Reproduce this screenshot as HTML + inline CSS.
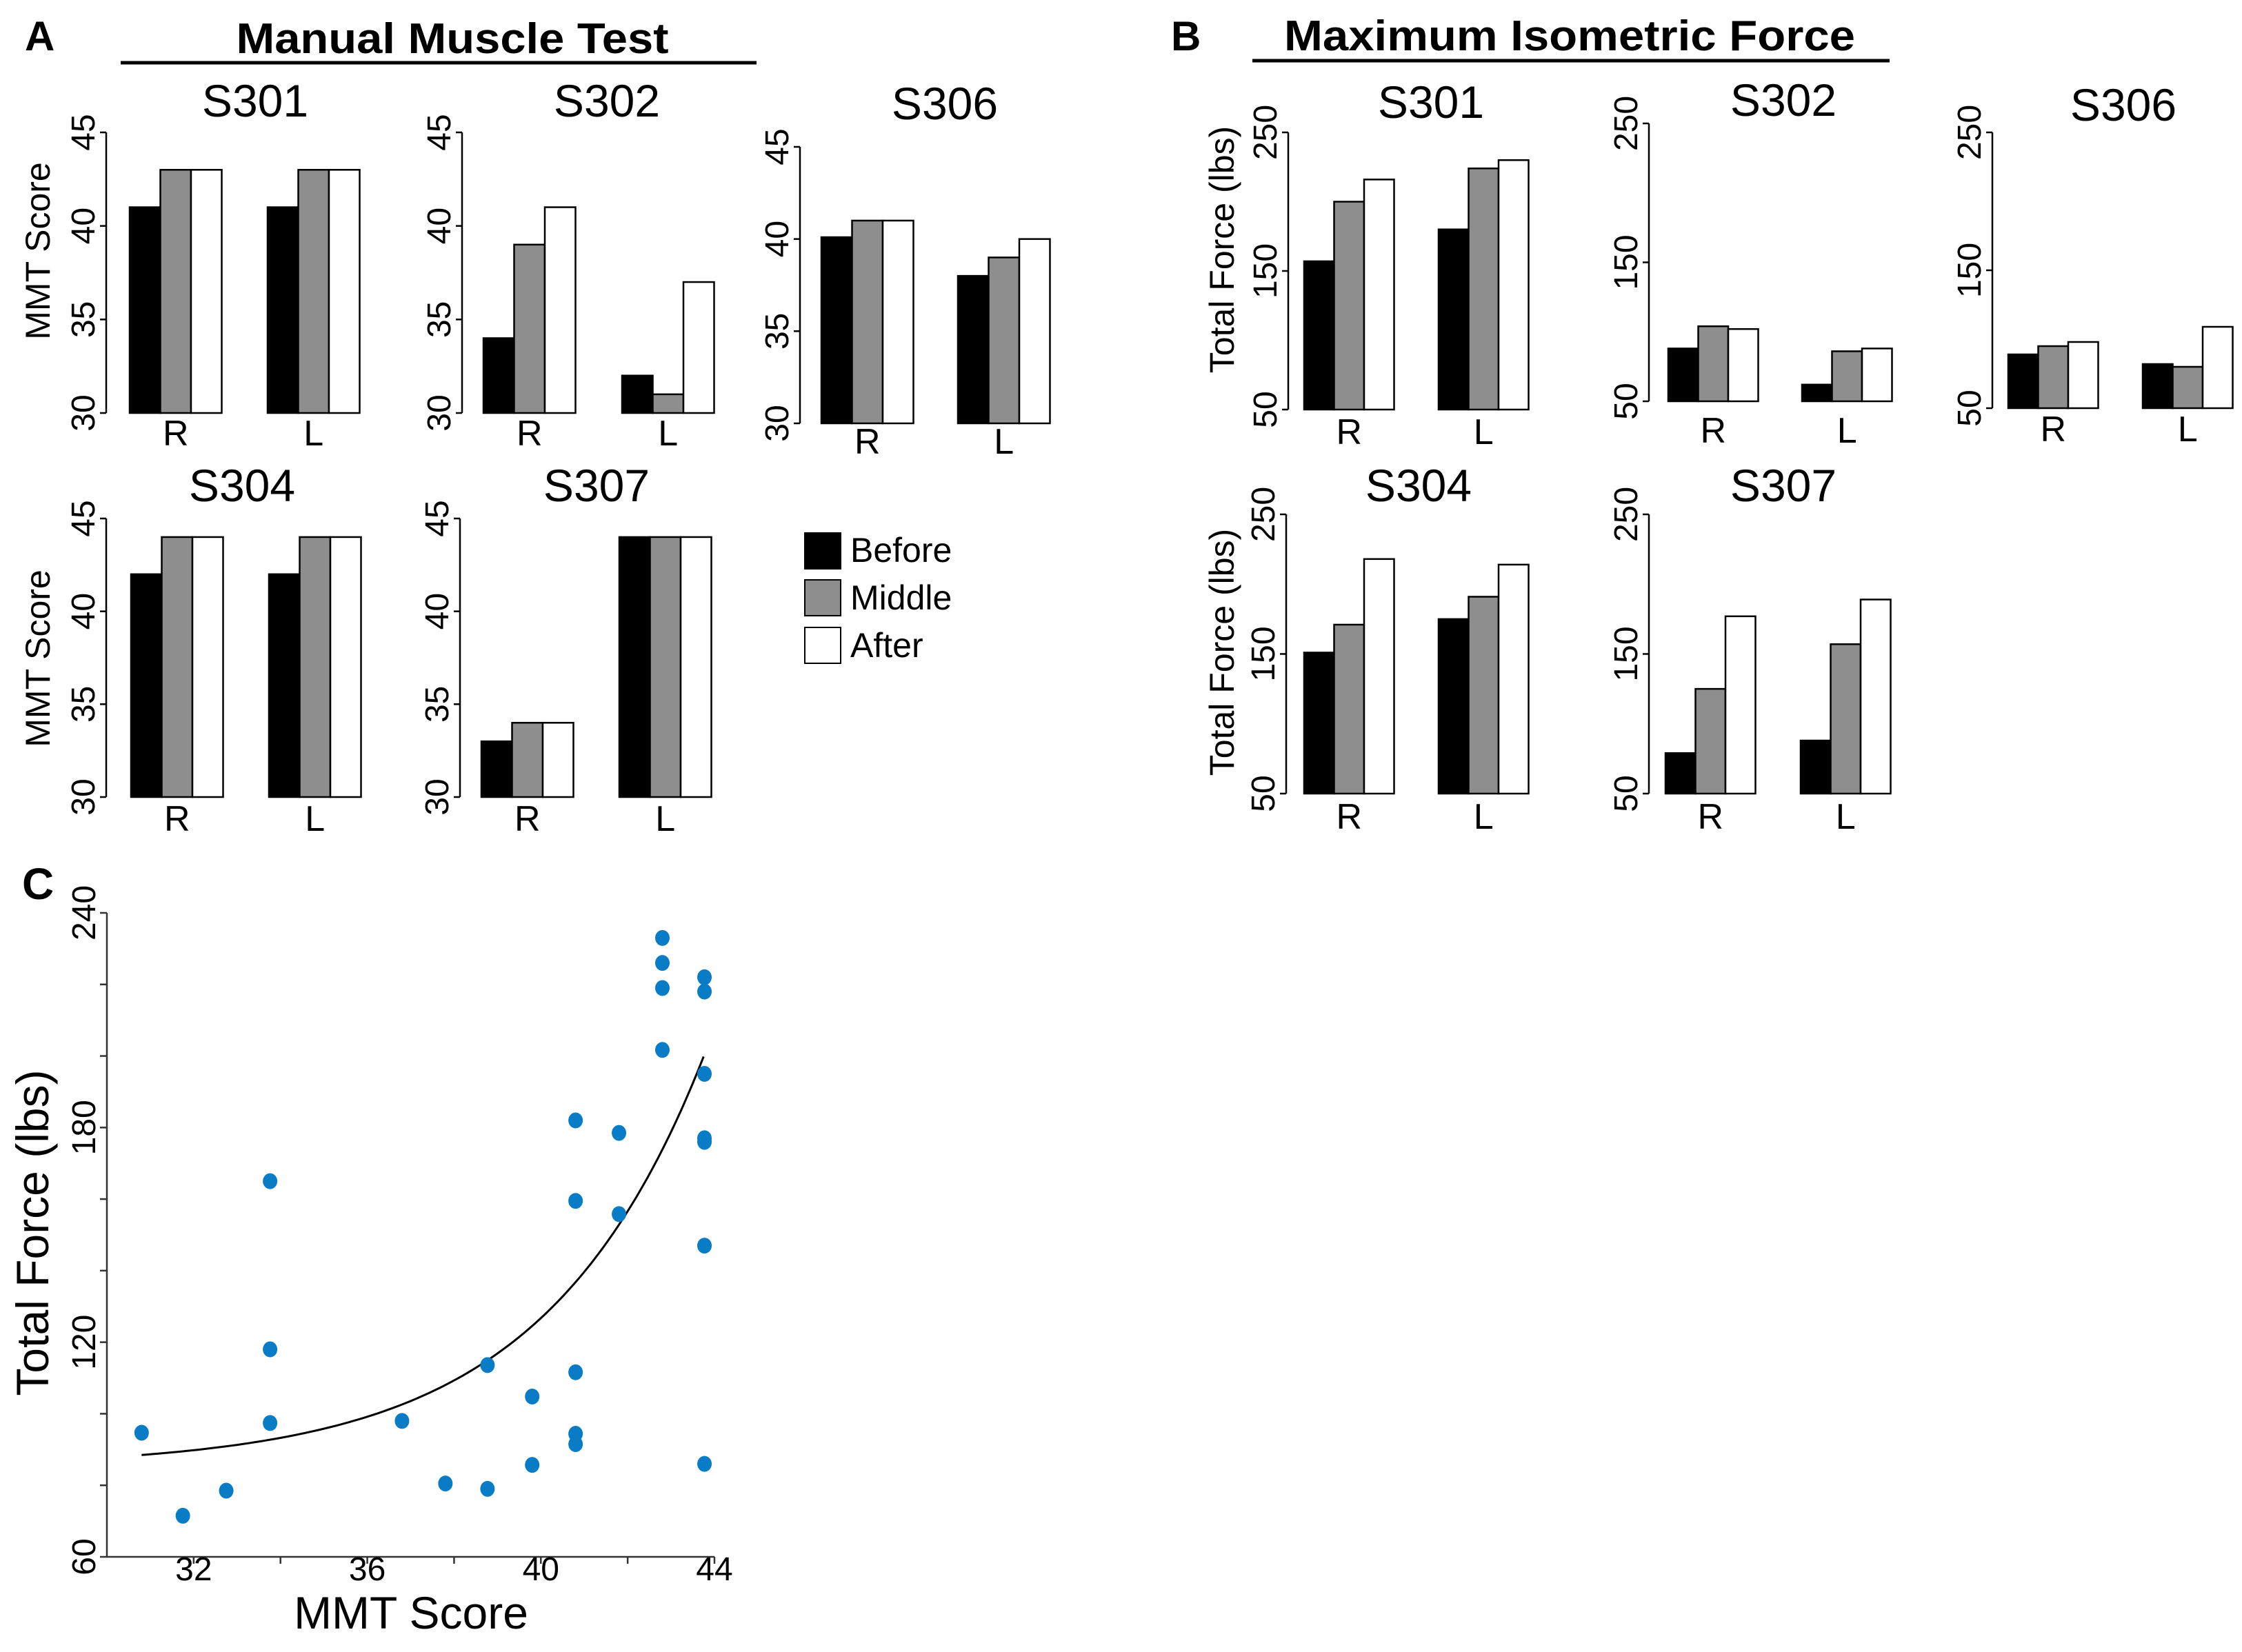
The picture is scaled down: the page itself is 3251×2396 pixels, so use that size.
<!DOCTYPE html>
<html><head><meta charset="utf-8"><style>
html,body{margin:0;padding:0;background:#fff}
svg{display:block}
text{font-family:"Liberation Sans",sans-serif;fill:#000}
</style></head><body>
<svg id="fig" xmlns="http://www.w3.org/2000/svg" width="3251" height="2396" viewBox="0 0 3251 2396">
<g>
<text x="36" y="73" font-size="60" font-weight="bold">A</text>
<text x="656" y="77" font-size="62" font-weight="bold" text-anchor="middle" textLength="627" lengthAdjust="spacingAndGlyphs">Manual Muscle Test</text>
<line x1="175" y1="91" x2="1097" y2="91" stroke="#000" stroke-width="5"/>
</g>
<g>
<text x="1698" y="73" font-size="60" font-weight="bold">B</text>
<text x="2276" y="73" font-size="62" font-weight="bold" text-anchor="middle" textLength="828" lengthAdjust="spacingAndGlyphs">Maximum Isometric Force</text>
<line x1="1816" y1="88" x2="2740" y2="88" stroke="#000" stroke-width="5"/>
</g>
<g>
<rect x="1167" y="773" width="52" height="52" fill="#000" stroke="#000" stroke-width="2"/>
<text x="1233" y="815" font-size="50">Before</text>
<rect x="1167" y="841" width="52" height="52" fill="#8e8e8e" stroke="#000" stroke-width="2"/>
<text x="1233" y="884" font-size="50">Middle</text>
<rect x="1167" y="910" width="52" height="52" fill="#fff" stroke="#000" stroke-width="2"/>
<text x="1233" y="953" font-size="50">After</text>
</g>
<text transform="translate(72,364) rotate(-90)" font-size="50" text-anchor="middle">MMT Score</text>
<text transform="translate(72,955) rotate(-90)" font-size="50" text-anchor="middle">MMT Score</text>
<text transform="translate(1789,362) rotate(-90)" font-size="50" text-anchor="middle">Total Force (lbs)</text>
<text transform="translate(1789,946) rotate(-90)" font-size="50" text-anchor="middle">Total Force (lbs)</text>
<g id="bars"></g>
<g id="scatter"></g>
</svg>
<script>
// ---- Panel A: MMT scores [Before, Middle, After] for R and L ----
const mmtSubjects = ["S301","S302","S306","S304","S307"];
const mmtR = [[41,43,43],[34,39,41],[40.1,41,41],[42,44,44],[33,34,34]];
const mmtL = [[41,43,43],[32,31,37],[38,39,40],[42,44,44],[44,44,44]];
const mmtTicks = [30,35,40,45];
// ---- Panel B: Total force (lbs) ----
const forceSubjects = ["S301","S302","S306","S304","S307"];
const forceR = [[157,200,216],[88,104,102],[89,95,98],[151,171,218],[79,125,177]];
const forceL = [[180,224,230],[62,86,88],[82,80,109],[175,191,214],[88,157,189]];
const forceTicks = [50,150,250];
const sides = ["R","L"];
// ---- Panel C: scatter ----
const scX = [30.8,31.75,32.75,33.76,33.76,33.76,36.8,37.8,38.77,38.77,39.8,39.8,40.8,40.8,40.8,40.8,40.8,41.8,41.8,42.8,42.8,42.8,42.8,43.77,43.77,43.77,43.77,43.77,43.77,43.77];
const scY = [94.7,71.5,78.5,165,118,97.4,98,80.5,113.6,79,104.8,85.7,182,159.5,111.6,94.4,91.5,178.5,155.8,233,226,219,201.7,222,218,195,177,176,147,86];
const fitParams = [85,3.48,0.27,30.8]; // y = a + b*exp(k*(x - x0))
const scXTicks = [32,34,36,38,40,42,44];
const scXLabels = [32,36,40,44];
const scYTicks = [60,80,100,120,140,160,180,200,220,240];
const scYLabels = [60,120,180,240];

const NS="http://www.w3.org/2000/svg";
function mk(tag,attrs,parent){const e=document.createElementNS(NS,tag);for(const k in attrs)e.setAttribute(k,attrs[k]);parent.appendChild(e);return e;}
const colors=["#000","#8e8e8e","#fff"];
const series=["before","middle","after"];

const layoutA=[
 {ax:154,yT:192,yB:599,g:[188,388],tx:370,ty:169,lb:646},
 {ax:670,yT:192,yB:599,g:[701,902],tx:880,ty:169,lb:646},
 {ax:1160,yT:213,yB:614,g:[1191,1389],tx:1370,ty:173,lb:658},
 {ax:154,yT:752,yB:1156,g:[190,390],tx:351,ty:727,lb:1205},
 {ax:667,yT:752,yB:1156,g:[698,898],tx:865,ty:727,lb:1205}];
const layoutB=[
 {ax:1868,yT:192,yB:594,g:[1891,2086],tx:2075,ty:171,lb:644},
 {ax:2391,yT:179,yB:582,g:[2419,2613],tx:2586,ty:168,lb:642},
 {ax:2889,yT:192,yB:592,g:[2912,3107],tx:3079,ty:175,lb:640},
 {ax:1865,yT:746,yB:1151,g:[1891,2086],tx:2057,ty:727,lb:1202},
 {ax:2391,yT:746,yB:1151,g:[2415,2611],tx:2586,ty:727,lb:1202}];

function barPanel(root,L,name,rVals,lVals,ticks,prefix,bw){
 const g=mk('g',{},root);
 
 
 const lo=ticks[0],hi=ticks[ticks.length-1];
 const y=v=>L.yB-(v-lo)/(hi-lo)*(L.yB-L.yT);
 const t=mk('text',{x:L.tx,y:L.ty,'font-size':66,'text-anchor':'middle'},g);t.textContent=name;
 
 
 const axl=mk('line',{x1:L.ax,x2:L.ax,y1:L.yT,y2:L.yB,stroke:'#000','stroke-width':2.5},g);
 
 
 ticks.forEach(v=>{
  const tk=mk('line',{x1:L.ax-9,x2:L.ax,y1:y(v),y2:y(v),stroke:'#000','stroke-width':2.5},g);
  
  
  const tl=mk('text',{transform:`translate(${L.ax-17},${y(v)}) rotate(-90)`,'font-size':48,'text-anchor':'middle'},g);
  tl.textContent=v;
  
  
 });
 [rVals,lVals].forEach((vals,gi)=>{
  const x0=L.g[gi];
  vals.forEach((v,i)=>{
   const r=mk('rect',{x:x0+i*bw,y:y(v),width:bw,height:L.yB-y(v),fill:colors[i],stroke:'#000','stroke-width':2.5},g);
   
   
  });
  const lt=mk('text',{x:x0+1.5*bw,y:L.lb,'font-size':52,'text-anchor':'middle'},g);
  lt.textContent=sides[gi];
  
  
 });
}
const bars=document.getElementById('bars');
mmtSubjects.forEach((s,i)=>barPanel(bars,layoutA[i],s,mmtR[i],mmtL[i],mmtTicks,'mmt',44.5));
forceSubjects.forEach((s,i)=>barPanel(bars,layoutB[i],s,forceR[i],forceL[i],forceTicks,'force',43.5));

// Panel C
const sc=document.getElementById('scatter');
const X0=155,X1=1036,Y0=2258,Y1=1324;
const xs=v=>X0+(v-30)/(44-30)*(X1-X0);
const ys=v=>Y0-(v-60)/(240-60)*(Y0-Y1);
const cl=mk('text',{x:32,y:1304,'font-size':64,'font-weight':'bold'},sc);cl.textContent='C';


const ya=mk('line',{x1:X0,x2:X0,y1:Y1,y2:Y0,stroke:'#333','stroke-width':2.5},sc);


const xa=mk('line',{x1:X0,x2:X1,y1:Y0,y2:Y0,stroke:'#333','stroke-width':2.5},sc);


scYTicks.forEach(v=>{
 const tk=mk('line',{x1:X0-10,x2:X0,y1:ys(v),y2:ys(v),stroke:'#333','stroke-width':2.5},sc);
 
 
});
scYLabels.forEach(v=>{
 const tl=mk('text',{transform:`translate(${X0-17},${ys(v)}) rotate(-90)`,'font-size':48,'text-anchor':'middle'},sc);
 tl.textContent=v;
 
 
});
scXTicks.forEach(v=>{
 const tk=mk('line',{x1:xs(v),x2:xs(v),y1:Y0,y2:Y0+10,stroke:'#333','stroke-width':2.5},sc);
 
 
});
scXLabels.forEach(v=>{
 const tl=mk('text',{x:xs(v),y:2292,'font-size':48,'text-anchor':'middle'},sc);
 tl.textContent=v;
 
 
});
const yt=mk('text',{transform:'translate(70,1788) rotate(-90)','font-size':66,'text-anchor':'middle'},sc);
yt.textContent='Total Force (lbs)';


const xt=mk('text',{x:596,y:2362,'font-size':66,'text-anchor':'middle'},sc);
xt.textContent='MMT Score';


let d='';
for(let i=0;i<=100;i++){const xv=30.8+(43.75-30.8)*i/100;const yv=fitParams[0]+fitParams[1]*Math.exp(fitParams[2]*(xv-fitParams[3]));d+=(i?'L':'M')+xs(xv).toFixed(1)+','+ys(yv).toFixed(1);}
const fl=mk('path',{d:d,fill:'none',stroke:'#000','stroke-width':3},sc);


scX.forEach((xv,i)=>{
 const p=mk('ellipse',{cx:xs(xv),cy:ys(scY[i]),rx:10.5,ry:11.5,fill:'#0a7cc6'},sc);
 
 
});
</script>
</body></html>
